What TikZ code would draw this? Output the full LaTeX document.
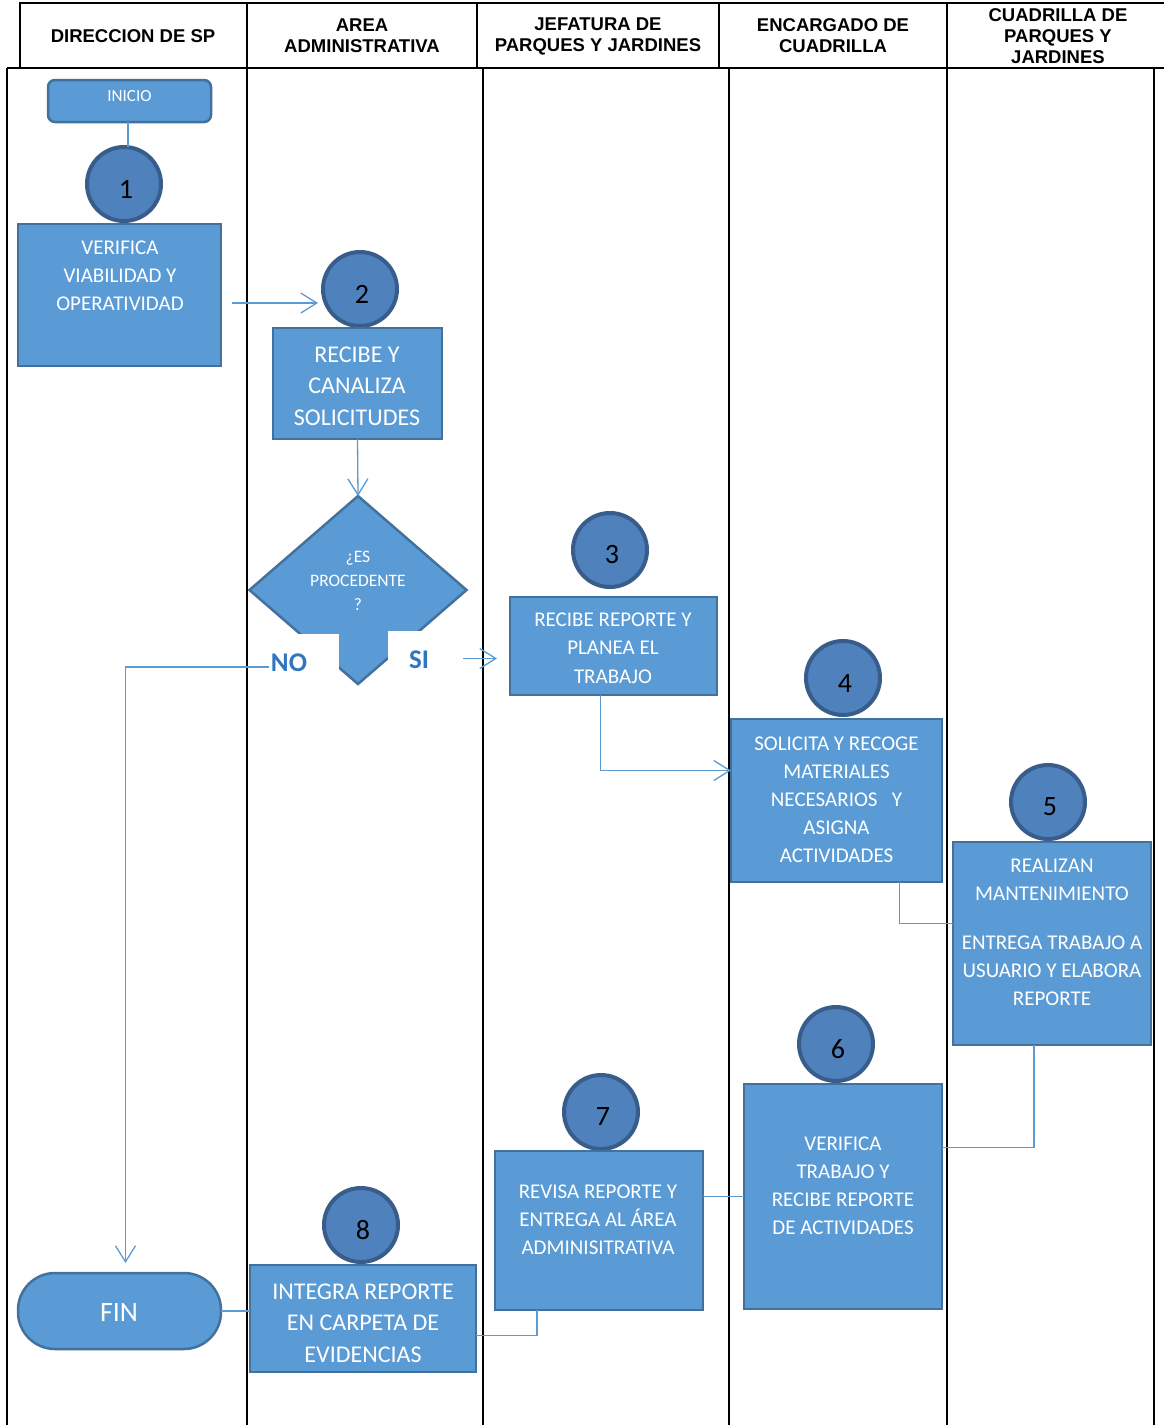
\documentclass[tikz,border=0pt]{standalone}
\usepackage{fontspec}
\setmainfont{Carlito}
\newfontfamily\hdrfont{Liberation Sans}
\usetikzlibrary{arrows.meta,calc,shapes.geometric}
\definecolor{boxfill}{HTML}{5B9BD5}
\definecolor{boxline}{HTML}{41719C}
\definecolor{circfill}{HTML}{4F81BD}
\definecolor{circline}{HTML}{385D8A}
\definecolor{conncol}{HTML}{5B9BD5}
\definecolor{labcol}{HTML}{2F75C0}
\begin{document}
\begin{tikzpicture}[x=1pt,y=-1pt,
  lane/.style={draw=black,line width=1.8pt},
  hdr/.style={align=center,inner sep=0,font=\hdrfont\bfseries\fontsize{18.5}{21}\selectfont},
  stepbox/.style={draw=boxline,fill=boxfill,line width=2.5pt,inner sep=0,outer sep=0},
  numcirc/.style={circle,draw=circline,fill=circfill,line width=4pt,minimum size=74pt,inner sep=0,outer sep=0},
  numtxt/.style={inner sep=0,font=\fontsize{28}{30}\selectfont},
  txt/.style={text=white,align=center,inner sep=0,font=\fontsize{21}{28}\selectfont},
  bigtxt/.style={text=white,align=center,inner sep=0,font=\fontsize{24}{31.5}\selectfont},
  conn/.style={draw=conncol,line width=1.3pt},
  tip/.style={-{Straight Barb[length=16pt,width=20pt,line width=1.3pt]}},
  lab/.style={text=labcol,inner sep=0,font=\bfseries\fontsize{27}{30}\selectfont},
  whitebox/.style={fill=white,draw=none,inner sep=0,outer sep=0}]
\useasboundingbox (0,0) rectangle (1164,1425);
\fill[white] (0,0) rectangle (1164,1425);

% header grid
\draw[lane] (20,68) -- (20,3) -- (1164,3);
\foreach \hx in {247,477,719,947} \draw[lane] (\hx,3) -- (\hx,68);
\draw[lane] (7,68) -- (1164,68);
% swimlane separators
\foreach \lx in {7,247,483,729,947,1154} \draw[lane] (\lx,68) -- (\lx,1425);

% header titles
\node[hdr] (h1) at (133,36) {DIRECCION DE SP};
\node[hdr] (h2) at (362,36) {AREA\\ADMINISTRATIVA};
\node[hdr] (h3) at (598,36) {JEFATURA DE\\PARQUES Y JARDINES};
\node[hdr] (h4) at (833,36) {ENCARGADO DE\\CUADRILLA};
\node[hdr] (h5) at (1058,36) {CUADRILLA DE\\PARQUES Y\\JARDINES};

% step numbers (drawn first, boxes overlap their lower edge)
\foreach \k/\cx/\cy in {1/124/184, 2/360/289, 3/610/550, 4/843/678,
                        5/1048/802, 6/836/1044, 7/601/1112, 8/361/1225} {
  \node[numcirc] (c\k) at (\cx,\cy) {};
  \node[numtxt] (n\k) at ($(c\k.center)+(2,5)$) {\k};
}

% start / end terminals
\node[stepbox,rounded corners=7pt,minimum width=163pt,minimum height=42pt] (inicio) at (129.5,101) {};
\node[text=white,inner sep=0,font=\fontsize{17}{20}\selectfont] (tinicio) at (129.5,96) {INICIO};
\node[stepbox,rounded corners=37pt,minimum width=203pt,minimum height=76pt] (fin) at (119.5,1311) {};
\node[text=white,inner sep=0,font=\fontsize{28}{30}\selectfont] (tfin) at (119,1313) {FIN};

% process boxes
\node[stepbox,minimum width=203pt,minimum height=142pt] (b1) at (119.5,295) {};
\node[stepbox,minimum width=169pt,minimum height=111pt] (b2) at (357.5,383.5) {};
\node[stepbox,minimum width=207pt,minimum height=98pt] (b3) at (613.5,646) {};
\node[stepbox,minimum width=211pt,minimum height=163pt] (b4) at (836.5,800.5) {};
\node[stepbox,minimum width=198pt,minimum height=203pt] (b5) at (1052,943.5) {};
\node[stepbox,minimum width=198pt,minimum height=225pt] (b6) at (843,1196.5) {};
\node[stepbox,minimum width=208pt,minimum height=159pt] (b7) at (599,1230.5) {};
\node[stepbox,minimum width=226pt,minimum height=107pt] (b8) at (363,1318.5) {};

\node[txt] (t1) at (120,276) {VERIFICA\\VIABILIDAD Y\\OPERATIVIDAD};
\node[bigtxt] (t2) at (357,386) {RECIBE Y\\CANALIZA\\SOLICITUDES};
\node[txt,font=\fontsize{21}{28.5}\selectfont] (t3) at (613,648) {RECIBE REPORTE Y\\PLANEA EL\\TRABAJO};
\node[txt] (t4) at (836.5,800) {SOLICITA Y RECOGE\\MATERIALES\\NECESARIOS\ \ \ Y\\ASIGNA\\ACTIVIDADES};
\node[txt] (t5) at (1052,932.5) {REALIZAN\\MANTENIMIENTO\\[21pt]ENTREGA TRABAJO A\\USUARIO Y ELABORA\\REPORTE};
\node[txt] (t6) at (843,1186) {VERIFICA\\TRABAJO Y\\RECIBE REPORTE\\DE ACTIVIDADES};
\node[txt] (t7) at (598,1220) {REVISA REPORTE Y\\ENTREGA AL ÁREA\\ADMINISITRATIVA};
\node[bigtxt] (t8) at (363,1323) {INTEGRA REPORTE\\EN CARPETA DE\\EVIDENCIAS};

% decision
\node[diamond,draw=boxline,fill=boxfill,line width=2.5pt,minimum width=217pt,minimum height=188pt,inner sep=0,outer sep=0] (dia) at (358,590) {};
\node[text=white,align=center,inner sep=0,font=\fontsize{17.5}{24}\selectfont] (tdia) at (358,581) {¿ES\\PROCEDENTE\\?};
\node[whitebox,minimum width=87pt,minimum height=53pt] (nobox) at (295.5,660.5) {};
\node[whitebox,minimum width=75pt,minimum height=55pt] (sibox) at (425.5,658.5) {};
\node[lab] (no) at (289,663) {NO};
\node[lab] (si) at (419,660) {SI};

% connectors
\draw[conn] (inicio.south -| c1.north) ++(4,0) coordinate (i0) -- (i0 |- c1.north);
\draw[conn,tip] ($(b1.east)+(11,8)$) -- ($(c2.west)+(-5,14)$);
\draw[conn,tip] (b2.south) -- (dia.north);
\draw[conn,tip] ($(no.west)+(-2,4)$) -| ($(fin.north)+(6,-10)$);
\draw[conn,tip] (sibox.east) -- ($(sibox.east -| b3.west)+(-13,0)$);
\draw[conn,tip] ($(b3.south)+(-13,0)$) |- ($(b4.west)+(0,-30)$);
\draw[conn] ($(b4.south)+(63,0)$) |- ($(b5.west)+(0,-20)$);
\draw[conn] ($(b5.south)+(-18,0)$) |- ($(b6.east)+(0,-49)$);
\draw[conn] (b6.west) -- (b6.west -| b7.east);
\draw[conn] ($(b7.south)+(-62,0)$) |- ($(b8.east)+(0,17)$);
\draw[conn] (fin.east) -- (fin.east -| b8.west);
\end{tikzpicture}
\end{document}
